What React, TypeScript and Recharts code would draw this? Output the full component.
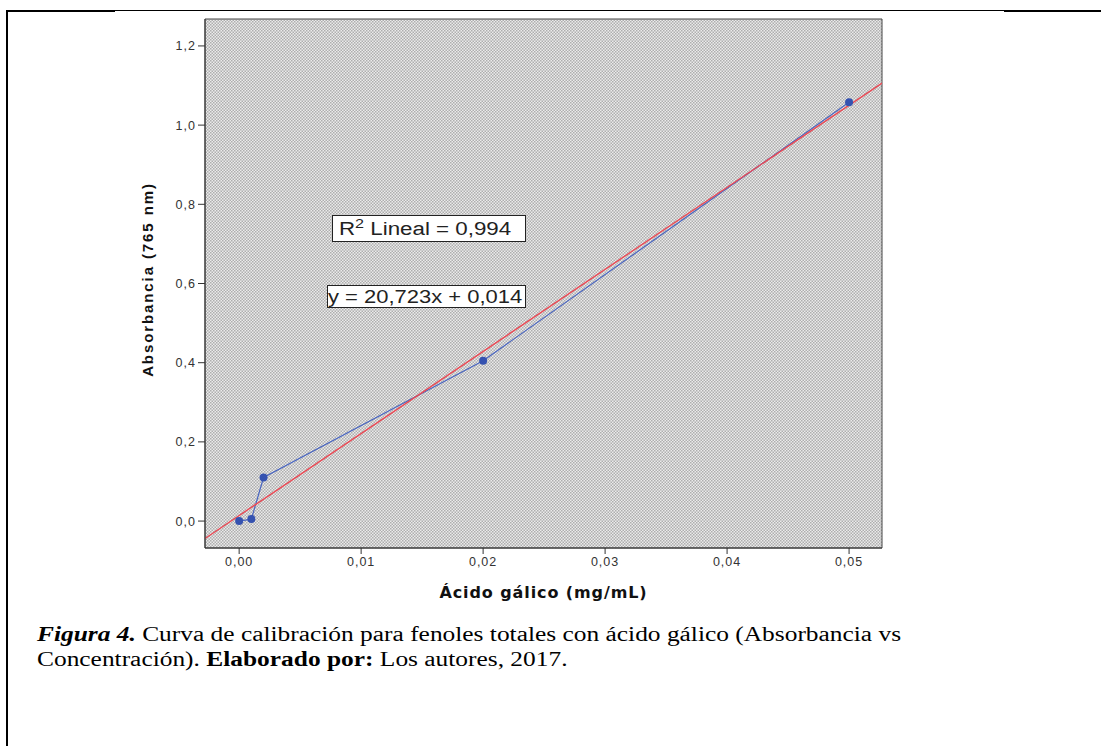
import {
  ComposedChart,
  Line,
  XAxis,
  YAxis,
  CartesianGrid,
  ReferenceArea,
  Label,
} from "recharts";

// concentración de ácido gálico (mg/mL) y absorbancia medida
const concentracion = [0, 0.001, 0.002, 0.02, 0.05];
const absorbancia = [0.0, 0.005, 0.11, 0.405, 1.058];

const xTicks = [0, 0.01, 0.02, 0.03, 0.04, 0.05];
const yTicks = [0, 0.2, 0.4, 0.6, 0.8, 1.0, 1.2];

const xDomain: [number, number] = [-0.0028, 0.0527];
const yDomain: [number, number] = [-0.068, 1.268];

// regresión lineal reportada
const pendiente = 20.723;
const intercepto = 0.014;
const r2 = "0,994";

const puntos = concentracion.map((x, i) => ({ x, y: absorbancia[i] }));
const ajuste = xDomain.map((x) => ({ x, fit: pendiente * x + intercepto }));

const fmt = (d: number) => (v: number) => v.toFixed(d).replace(".", ",");

const tickStyle = {
  fill: "#333",
  fontSize: 12.5,
  fontFamily: "Liberation Sans, Arial, sans-serif",
  letterSpacing: 1,
};

// la figura original está algo estirada en horizontal
const ancho = (s: number) => ({
  display: "inline-block",
  transform: `scaleX(${s})`,
  transformOrigin: "left center",
});

export default function App() {
  return (
    <div
      style={{
        position: "absolute",
        left: 0,
        top: 0,
        width: 1101,
        height: 746,
        background: "#fff",
        overflow: "hidden",
      }}
    >
      {/* marco de la página */}
      <div style={{ position: "absolute", left: 7, top: 10, width: 108, height: 2, background: "#000" }} />
      <div style={{ position: "absolute", left: 115, top: 10, width: 889, height: 1, background: "#000" }} />
      <div style={{ position: "absolute", left: 1004, top: 10, width: 97, height: 2, background: "#000" }} />
      <div style={{ position: "absolute", left: 6, top: 10, width: 2, height: 736, background: "#000" }} />

      <ComposedChart
        width={1101}
        height={746}
        data={puntos}
        margin={{ top: 19, right: 219, left: 145, bottom: 168 }}
      >
        <defs>
          <pattern id="puntos" width="3" height="3" patternUnits="userSpaceOnUse">
            <rect width="3" height="3" fill="#ebebeb" />
            <rect x="0" y="0" width="1.5" height="1.5" fill="#aeaeae" />
            <rect x="1.5" y="1.5" width="1.5" height="1.5" fill="#aeaeae" />
          </pattern>
        </defs>
        <CartesianGrid horizontal={false} vertical={false} fill="url(#puntos)" />
        <XAxis
          type="number"
          dataKey="x"
          domain={xDomain}
          ticks={xTicks}
          allowDataOverflow
          tickFormatter={fmt(2)}
          tick={tickStyle}
          tickSize={6}
          tickMargin={3}
          height={30}
          stroke="#333"
        >
          <Label
            value="Ácido gálico (mg/mL)"
            position="center"
            dy={29}
            style={{
              fontFamily: "DejaVu Sans, sans-serif",
              fontWeight: 700,
              fontSize: 16,
              letterSpacing: 0.9,
              fill: "#111",
            }}
          />
        </XAxis>
        <YAxis
          type="number"
          domain={yDomain}
          ticks={yTicks}
          allowDataOverflow
          tickFormatter={fmt(1)}
          tick={tickStyle}
          tickSize={7}
          tickMargin={2}
          width={60}
          stroke="#333"
        >
          <Label
            value="Absorbancia (765 nm)"
            position="center"
            angle={-90}
            dx={-27}
            dy={-4}
            style={{
              fontFamily: "Liberation Sans, Arial, sans-serif",
              fontWeight: 700,
              fontSize: 15,
              letterSpacing: 1.9,
              fill: "#111",
            }}
          />
        </YAxis>
        <ReferenceArea
          x1={xDomain[0]}
          x2={xDomain[1]}
          y1={yDomain[0]}
          y2={yDomain[1]}
          fill="none"
          stroke="#444"
          strokeWidth={1}
          fillOpacity={0}
        />
        <Line
          dataKey="y"
          stroke="#4a66c0"
          strokeWidth={1.2}
          dot={{ r: 4, fill: "#3552b0", stroke: "#3552b0", strokeWidth: 0 }}
          isAnimationActive={false}
        />
        <Line
          data={ajuste}
          dataKey="fit"
          stroke="#ea4a55"
          strokeWidth={1.4}
          dot={false}
          isAnimationActive={false}
        />
      </ComposedChart>

      {/* anotaciones de la regresión */}
      <div
        style={{
          position: "absolute",
          left: 332,
          top: 215,
          width: 186,
          height: 25,
          border: "1px solid #222",
          background: "#fff",
          fontFamily: "Liberation Sans, Arial, sans-serif",
          fontSize: 18,
          lineHeight: "26px",
          color: "#222",
          paddingLeft: 6,
          boxSizing: "content-box",
          whiteSpace: "nowrap",
        }}
      >
        <span style={ancho(1.24)}>
          R<sup style={{ fontSize: 13, verticalAlign: "7px", lineHeight: 0 }}>2</sup> Lineal = {r2}
        </span>
      </div>
      <div
        style={{
          position: "absolute",
          left: 327,
          top: 285,
          width: 197,
          height: 21,
          border: "1px solid #222",
          background: "#fff",
          fontFamily: "Liberation Sans, Arial, sans-serif",
          fontSize: 18,
          lineHeight: "22px",
          color: "#222",
          whiteSpace: "nowrap",
          overflow: "hidden",
        }}
      >
        <span style={ancho(1.22)}>
          y = {fmt(3)(pendiente)}x + {fmt(3)(intercepto)}
        </span>
      </div>

      {/* pie de figura */}
      <div
        style={{
          position: "absolute",
          left: 37,
          top: 622,
          width: 760,
          fontFamily: "Liberation Serif, Times New Roman, serif",
          fontSize: 20,
          lineHeight: "25px",
          color: "#000",
          transform: "scaleX(1.27)",
          transformOrigin: "left top",
          whiteSpace: "nowrap",
        }}
      >
        <b>
          <i>Figura 4.</i>
        </b>{" "}
        Curva de calibración para fenoles totales con ácido gálico (Absorbancia vs
        <br />
        Concentración). <b>Elaborado por:</b> Los autores, 2017.
      </div>
    </div>
  );
}
